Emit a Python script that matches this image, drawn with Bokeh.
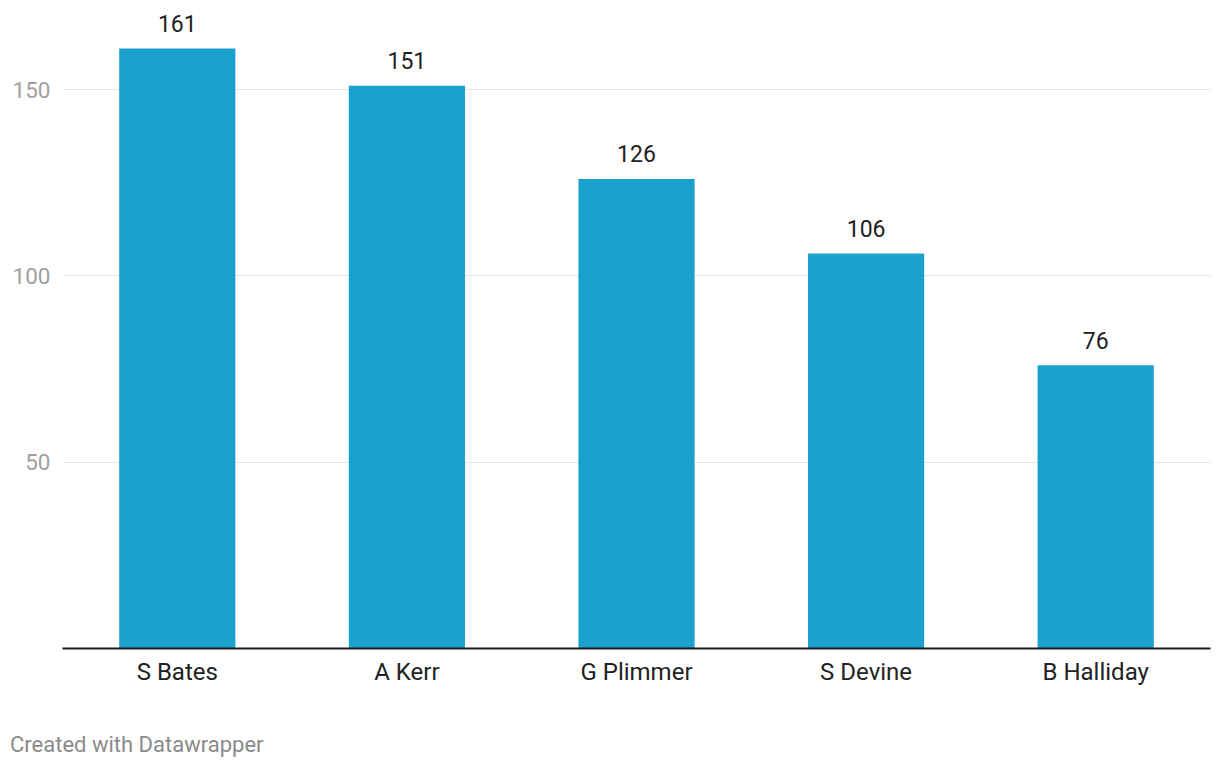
from bokeh.plotting import figure
from bokeh.models import ColumnDataSource, FixedTicker, Range1d, Div
from bokeh.layouts import column
from bokeh.core.properties import value
from bokeh.embed import file_html
from bokeh.resources import INLINE

players = ["S Bates", "A Kerr", "G Plimmer", "S Devine", "B Halliday"]
values = [161, 151, 126, 106, 76]
y_ticks = [50, 100, 150]

FONT = "Roboto"
src = ColumnDataSource(dict(x=players, top=values, label=[str(v) for v in values]))

p = figure(x_range=players, width=1212, height=705, output_backend="svg",
           toolbar_location=None, min_border_left=62, min_border_right=2,
           min_border_top=0, min_border_bottom=57)
p.y_range = Range1d(0, 173.9)
p.outline_line_color = None
p.background_fill_color = "white"
p.border_fill_color = "white"

p.vbar(x="x", top="top", width=0.506, source=src, color="#1aa1cd", line_color=None)
p.text(x="x", y="top", text="label", source=src, text_align="center",
       text_baseline="alphabetic", y_offset=-25, text_font_size="23px",
       text_color="#222222", text_font=value(FONT))

p.xgrid.grid_line_color = None
p.ygrid.grid_line_color = "#e5e5e5"
p.ygrid.grid_line_width = 1
p.yaxis.ticker = FixedTicker(ticks=y_ticks)
p.yaxis.axis_line_color = None
p.yaxis.major_tick_line_color = None
p.yaxis.minor_tick_line_color = None
p.yaxis.major_tick_out = 0
p.yaxis.major_tick_in = 0
p.yaxis.major_label_standoff = 12
p.yaxis.major_label_text_font = FONT
p.yaxis.major_label_text_font_size = "22.5px"
p.yaxis.major_label_text_color = "#a0a0a0"

p.xaxis.axis_line_color = "#1a1a1a"
p.xaxis.axis_line_width = 2
p.xaxis.major_tick_line_color = None
p.xaxis.minor_tick_line_color = None
p.xaxis.major_tick_out = 0
p.xaxis.major_tick_in = 0
p.xaxis.major_label_standoff = 9
p.xaxis.major_label_text_font = FONT
p.xaxis.major_label_text_font_size = "24px"
p.xaxis.major_label_text_color = "#222222"

footer = Div(text="Created with Datawrapper", width=600, height=26,
             margin=(27, 0, 0, 10),
             styles={"font-family": "Roboto", "font-size": "22px",
                     "color": "#8a8a8a", "line-height": "26px"})

layout = column(p, footer, spacing=0)
open("out.html", "w").write(file_html(layout, INLINE))
